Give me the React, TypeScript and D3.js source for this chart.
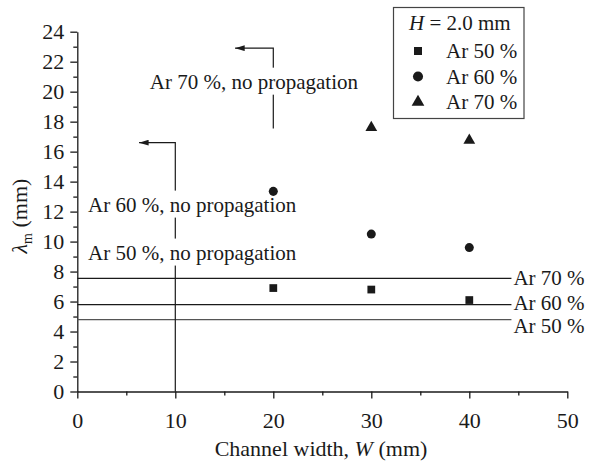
import * as d3 from "d3";
import { useEffect, useRef } from "react";

// channel widths with measurements
const widths = [20, 30, 40];
const ar50 = [6.9, 6.8, 6.1];
const ar60 = [13.35, 10.5, 9.6];
const ar70 = [null, 17.6, 16.75];

// critical wavelengths (horizontal lines)
const limitNames = ["Ar 70 %", "Ar 60 %", "Ar 50 %"];
const limitValues = [7.55, 5.8, 4.8];
const limitLabelY = [7.1, 5.45, 3.9];

// no-propagation brackets
const bracketNames = ["Ar 70 %, no propagation", "Ar 60 %, no propagation"];
const bracketX = [20, 10];
const bracketTop = [22.9, 16.6];
const bracketBottom = [17.55, 0];
const bracketArrowTo = [16.1, 6.3];
const noPropTexts = ["Ar 70 %, no propagation", "Ar 60 %, no propagation", "Ar 50 %, no propagation"];
const noPropX = [7.4, 1.1, 1.1];
const noPropY = [20.2, 12.0, 8.8];

const xTicks = [0, 10, 20, 30, 40, 50];
const yTicks = [0, 2, 4, 6, 8, 10, 12, 14, 16, 18, 20, 22, 24];

const W = 589;
const H = 464;
const FONT = "'Liberation Serif', 'Times New Roman', serif";

export default function App() {
  const ref = useRef<SVGSVGElement>(null);

  useEffect(() => {
    const svg = d3.select(ref.current);
    svg.selectAll("*").remove();

    const x = d3.scaleLinear().domain([0, 50]).range([77.3, 567.3]);
    const y = d3.scaleLinear().domain([0, 24]).range([391.5, 31.7]);
    const ink = "#1a1a1a";
    const fs = 21;

    // axes
    const gx = svg
      .append("g")
      .attr("transform", `translate(0,${y(0)})`)
      .call(d3.axisBottom(x).tickValues(xTicks).tickSize(7).tickPadding(14).tickSizeOuter(0).tickFormat(d3.format("d")));
    svg
      .append("g")
      .attr("transform", `translate(0,${y(0)})`)
      .call(d3.axisBottom(x).tickValues(d3.range(5, 50, 10)).tickSize(4).tickFormat(() => "").tickSizeOuter(0))
      .select(".domain")
      .remove();
    const gy = svg
      .append("g")
      .attr("transform", `translate(${x(0)},0)`)
      .call(d3.axisLeft(y).tickValues(yTicks).tickSize(7).tickPadding(6).tickSizeOuter(0));
    svg
      .append("g")
      .attr("transform", `translate(${x(0)},0)`)
      .call(d3.axisLeft(y).tickValues(d3.range(1, 24, 2)).tickSize(4).tickFormat(() => "").tickSizeOuter(0))
      .select(".domain")
      .remove();

    svg.selectAll(".tick line, .domain").attr("stroke", ink).attr("stroke-width", 1.3);
    [gx, gy].forEach((g) =>
      g.selectAll("text").attr("font-family", FONT).attr("font-size", 22).attr("fill", ink)
    );
    gx.selectAll("text").attr("dy", "0.71em");

    // horizontal limit lines
    limitValues.forEach((v, i) => {
      svg
        .append("line")
        .attr("x1", x(0))
        .attr("x2", x(44.3))
        .attr("y1", y(v))
        .attr("y2", y(v))
        .attr("stroke", i === 2 ? "#555" : ink)
        .attr("stroke-width", 1.2);
      svg
        .append("text")
        .attr("x", x(44.3) + 2)
        .attr("y", y(limitLabelY[i]))
        .attr("font-family", FONT)
        .attr("font-size", fs)
        .attr("fill", ink)
        .text(limitNames[i]);
    });

    // brackets with arrows
    svg
      .append("defs")
      .append("marker")
      .attr("id", "arr")
      .attr("viewBox", "0 0 10 6")
      .attr("refX", 10)
      .attr("refY", 3)
      .attr("markerWidth", 8)
      .attr("markerHeight", 5)
      .attr("orient", "auto")
      .append("path")
      .attr("d", "M0,0L10,3L0,6Z")
      .attr("fill", ink);

    bracketNames.forEach((_, i) => {
      svg
        .append("path")
        .attr(
          "d",
          d3.line()([
            [x(bracketX[i]), y(bracketBottom[i])],
            [x(bracketX[i]), y(bracketTop[i])],
            [x(bracketArrowTo[i]), y(bracketTop[i])],
          ])
        )
        .attr("fill", "none")
        .attr("stroke", ink)
        .attr("stroke-width", 1.2)
        .attr("marker-end", "url(#arr)");
    });

    // no-propagation labels with white boxes breaking the lines
    noPropTexts.forEach((t, i) => {
      const tx = svg
        .append("text")
        .attr("x", x(noPropX[i]))
        .attr("y", y(noPropY[i]))
        .attr("font-family", FONT)
        .attr("font-size", fs)
        .attr("fill", ink)
        .text(t);
      const bb = (tx.node() as SVGTextElement).getBBox();
      svg
        .insert("rect", () => tx.node())
        .attr("x", bb.x - 2)
        .attr("y", bb.y - 2)
        .attr("width", bb.width + 4)
        .attr("height", bb.height + 3)
        .attr("fill", "white");
    });

    // data markers
    const sq = d3.symbol().type(d3.symbolSquare).size(60);
    const ci = d3.symbol().type(d3.symbolCircle).size(64);
    const tr = d3.symbol().type(d3.symbolTriangle).size(60);
    const series: [(number | null)[], d3.Symbol<any, any>][] = [
      [ar50, sq],
      [ar60, ci],
      [ar70, tr],
    ];
    series.forEach(([vals, sym]) => {
      svg
        .append("g")
        .selectAll("path")
        .data(widths.map((w, i) => [w, vals[i]]).filter((d) => d[1] != null))
        .join("path")
        .attr("transform", (d) => `translate(${x(d[0] as number)},${y(d[1] as number)})`)
        .attr("d", sym as any)
        .attr("fill", ink);
    });

    // legend
    const lg = svg.append("g");
    lg.append("rect")
      .attr("x", 393.5)
      .attr("y", 7.5)
      .attr("width", 130.5)
      .attr("height", 111)
      .attr("fill", "white")
      .attr("stroke", "#444")
      .attr("stroke-width", 1.2);
    const ht = lg
      .append("text")
      .attr("x", 409)
      .attr("y", 30)
      .attr("font-family", FONT)
      .attr("font-size", fs)
      .attr("fill", ink);
    ht.append("tspan").attr("font-style", "italic").text("H");
    ht.append("tspan").text(" = 2.0 mm");
    const legNames = ["Ar 50 %", "Ar 60 %", "Ar 70 %"];
    const legSyms = [
      d3.symbol().type(d3.symbolSquare).size(64),
      d3.symbol().type(d3.symbolCircle).size(80),
      d3.symbol().type(d3.symbolTriangle).size(70),
    ];
    legNames.forEach((n, i) => {
      const cy = 51 + i * 25.5;
      lg.append("path")
        .attr("transform", `translate(418,${cy})`)
        .attr("d", legSyms[i]() as string)
        .attr("fill", ink);
      lg.append("text")
        .attr("x", 446)
        .attr("y", cy + 7)
        .attr("font-family", FONT)
        .attr("font-size", fs)
        .attr("fill", ink)
        .text(n);
    });

    // axis titles
    const xt = svg
      .append("text")
      .attr("x", 321)
      .attr("y", 456)
      .attr("text-anchor", "middle")
      .attr("font-family", FONT)
      .attr("font-size", 22)
      .attr("fill", ink);
    xt.append("tspan").text("Channel width, ");
    xt.append("tspan").attr("font-style", "italic").text("W");
    xt.append("tspan").text(" (mm)");

    const yt = svg
      .append("text")
      .attr("transform", `translate(27,216) rotate(-90)`)
      .attr("text-anchor", "middle")
      .attr("font-family", FONT)
      .attr("font-size", 22)
      .attr("fill", ink);
    yt.append("tspan").attr("font-style", "italic").text("λ");
    yt.append("tspan").attr("font-size", 14).attr("dy", 5).text("m");
    yt.append("tspan").attr("dy", -5).text(" (mm)");
  }, []);

  return (
    <svg
      ref={ref}
      width={W}
      height={H}
      style={{ position: "absolute", left: 0, top: 0, background: "white" }}
    />
  );
}
